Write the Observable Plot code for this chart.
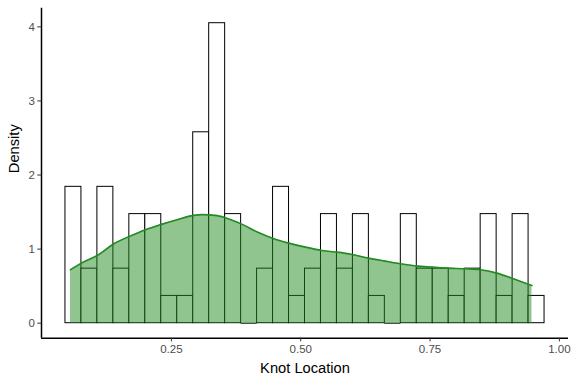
<!DOCTYPE html>
<html>
<head>
<meta charset="utf-8">
<script src="https://cdn.jsdelivr.net/npm/d3@7"></script>
<script src="https://cdn.jsdelivr.net/npm/@observablehq/plot@0.6"></script>
<style>
  html, body { margin: 0; padding: 0; background: #ffffff; }
  #chart { width: 576px; height: 384px; }
</style>
</head>
<body>
<div id="chart"></div>
<script>
// Histogram: 30 bins, counts
const binStart = 0.0452;
const binWidth = 0.03087;
const binCounts = [5, 2, 5, 2, 4, 4, 1, 1, 7, 11, 4, 0, 2, 5, 1, 2, 4, 2, 4, 1, 0, 4, 2, 2, 1, 2, 4, 1, 4, 1];

// Kernel density curve
const densityX = [0.055, 0.076, 0.107, 0.139, 0.169, 0.200, 0.231, 0.261, 0.293, 0.309, 0.335, 0.354, 0.387, 0.416, 0.448, 0.477, 0.509, 0.541, 0.570, 0.599, 0.631, 0.663, 0.692, 0.725, 0.754, 0.786, 0.818, 0.847, 0.879, 0.908, 0.947];
const densityY = [0.722, 0.811, 0.915, 1.073, 1.172, 1.262, 1.334, 1.397, 1.455, 1.465, 1.455, 1.424, 1.334, 1.230, 1.141, 1.081, 1.027, 0.982, 0.959, 0.928, 0.878, 0.838, 0.803, 0.770, 0.757, 0.743, 0.735, 0.722, 0.676, 0.608, 0.509];

const xTicks = [0.25, 0.50, 0.75, 1.00];
const yTicks = [0, 1, 2, 3, 4];
const xTitle = "Knot Location";
const yTitle = "Density";

// Build tables
const total = d3.sum(binCounts);
const bins = binCounts.map((c, i) => ({
  x1: binStart + i * binWidth,
  x2: binStart + (i + 1) * binWidth,
  count: c,
  density: c / (total * binWidth)
}));
const filledBins = bins.filter(d => d.count > 0);
const emptyBins = bins.filter(d => d.count === 0);
const curve = densityX.map((x, i) => ({x, y: densityY[i]}));

// ggplot-like 5% expansion
const xLo = bins[0].x1, xHi = bins[bins.length - 1].x2;
const yHi = d3.max(bins, d => d.density);
const xDomain = [xLo - 0.05 * (xHi - xLo), xHi + 0.05 * (xHi - xLo)];
const yDomain = [-0.05 * yHi, yHi * 1.05];

const font = "'Liberation Sans', Arial, Helvetica, sans-serif";

const chart = Plot.plot({
  width: 576,
  height: 384,
  marginLeft: 41,
  marginRight: 8,
  marginTop: 7.7,
  marginBottom: 46.3,
  style: {fontFamily: font, background: "#ffffff", color: "#4d4d4d"},
  x: {domain: xDomain, label: null},
  y: {domain: yDomain, label: null},
  marks: [
    Plot.rectY(filledBins, {x1: "x1", x2: "x2", y1: () => 0, y2: "density", fill: "#ffffff", stroke: "#000000", strokeWidth: 1, inset: 0}),
    Plot.ruleY(emptyBins, {x1: "x1", x2: "x2", y: () => 0, stroke: "#000000", strokeWidth: 1}),
    Plot.areaY(curve, {x: "x", y1: () => 0, y2: "y", fill: "#228B22", fillOpacity: 0.5, curve: "monotone-x"}),
    Plot.lineY(curve, {x: "x", y: "y", stroke: "#228B22", strokeWidth: 1.6, curve: "monotone-x"}),
    Plot.ruleX([xDomain[0]], {stroke: "#000000", strokeWidth: 1.5}),
    Plot.ruleY([yDomain[0]], {stroke: "#000000", strokeWidth: 1.5}),
    Plot.axisX({ticks: xTicks, tickFormat: d3.format(".2f"), tickSize: 3.7, tickPadding: 3, fontSize: 11.5, label: null, stroke: "#333333", fill: "#4d4d4d"}),
    Plot.axisY({ticks: yTicks, tickFormat: d3.format("d"), tickSize: 3.7, tickPadding: 3, fontSize: 11.5, label: null, stroke: "#333333", fill: "#4d4d4d"}),
    Plot.text([xTitle], {frameAnchor: "bottom", lineAnchor: "bottom", dy: 35, fontSize: 14.7, fill: "#000000", text: d => d}),
    Plot.text([yTitle], {frameAnchor: "left", rotate: -90, dx: -27, fontSize: 14.7, fill: "#000000", text: d => d})
  ]
});
document.getElementById("chart").appendChild(chart);
</script>
</body>
</html>
